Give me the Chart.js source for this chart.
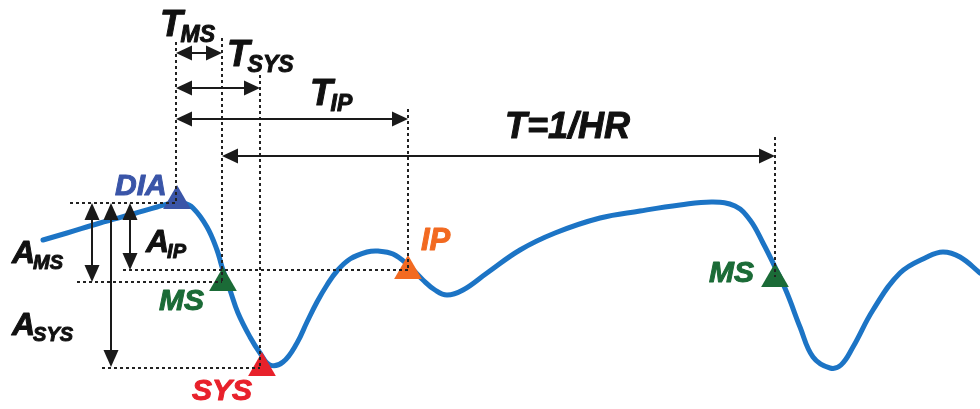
<!DOCTYPE html>
<html>
<head>
<meta charset="utf-8">
<script src="https://cdn.jsdelivr.net/npm/chart.js@4.4.1/dist/chart.umd.min.js"></script>
<style>
  html, body { margin: 0; padding: 0; background: #fff; }
  canvas { display: block; }
</style>
</head>
<body>
<canvas id="chart1" width="980" height="409"></canvas>
<script>
// pulse wave (time axis left->right, level axis top->down)
const waveTime = [43, 67, 100, 133, 157, 173, 183, 193, 207, 217, 222, 230, 238, 250, 260, 270, 283, 297, 307, 317,
    327, 337, 350, 367, 378, 393, 408, 423, 435, 447, 463, 487, 520, 555, 600, 640, 680, 713,
    735, 750, 763, 775, 787, 800, 813, 830, 841, 853, 873, 900, 927, 943, 960, 980]
const waveLevel = [240, 233, 223, 214, 207, 203, 203, 208, 227, 250, 267, 290, 313, 337, 353, 365, 362, 343, 322, 302,
    285, 271, 259, 252, 251, 254, 265, 280, 290, 295, 290, 273, 250, 233, 218, 211, 205, 202,
    206, 220, 243, 267, 293, 327, 357, 368, 365, 347, 310, 273, 257, 252, 257, 273]

// characteristic points
const markerNames = ["DIA", "MS", "SYS", "IP", "MS"]
const markerTime = [177, 223, 262, 408, 775]
const markerLevel = [201, 283, 368, 271, 279]
const markerColors = ["#3a55a8", "#1b6b37", "#e8212b", "#f26a21", "#1b6b37"]

// dotted guide lines
const guideVertical = [
    { t: 176, from: 42, to: 203 },
    { t: 222, from: 38, to: 282 },
    { t: 260, from: 75, to: 368 },
    { t: 408, from: 109, to: 270 },
    { t: 775, from: 137, to: 277 },
]
const guideHorizontal = [
    { level: 203, from: 70, to: 176 },
    { level: 282, from: 77, to: 222 },
    { level: 270, from: 123, to: 408 },
    { level: 368, from: 102, to: 260 },
]

// interval arrows (time) and amplitude arrows (level)
const timeArrows = [
    { name: "T_MS", level: 53, from: 176, to: 222 },
    { name: "T_SYS", level: 88, from: 176, to: 260 },
    { name: "T_IP", level: 119, from: 176, to: 408 },
    { name: "T", level: 156, from: 222, to: 775 },
]
const levelArrows = [
    { name: "A_MS", t: 92, from: 203, to: 282 },
    { name: "A_SYS", t: 111, from: 203, to: 367 },
    { name: "A_IP", t: 130, from: 203, to: 270 },
]

// text labels: main part, subscript, anchor (time, level = baseline)
const labels = [
    { main: "T", sub: "MS", t: 160, level: 36, size: 37, color: "#111" },
    { main: "T", sub: "SYS", t: 227, level: 66, size: 37, color: "#111" },
    { main: "T", sub: "IP", t: 310, level: 105, size: 37, color: "#111" },
    { main: "T=1/HR", sub: "", t: 505, level: 138, size: 36, color: "#111" },
    { main: "DIA", sub: "", t: 115, level: 195, size: 30, color: "#3a55a8" },
    { main: "A", sub: "MS", t: 12, level: 263, size: 32, color: "#111" },
    { main: "A", sub: "IP", t: 146, level: 252, size: 32, color: "#111" },
    { main: "A", sub: "SYS", t: 12, level: 335, size: 32, color: "#111" },
    { main: "MS", sub: "", t: 159, level: 310, size: 30, color: "#1b6b37" },
    { main: "SYS", sub: "", t: 192, level: 400, size: 30, color: "#e8212b" },
    { main: "IP", sub: "", t: 421, level: 250, size: 31, color: "#f26a21" },
    { main: "MS", sub: "", t: 709, level: 282, size: 30, color: "#1b6b37" },
]

const FONT = "'Liberation Sans', Arial, sans-serif"

function segment(points, opts) {
    return Object.assign({
        type: "line",
        data: points,
        borderColor: "#1a1a1a",
        borderWidth: 2,
        pointRadius: 0,
        fill: false,
        tension: 0,
    }, opts)
}

let datasets = []

// curve at the bottom
datasets.push({
    type: "line",
    data: waveTime.map((t, i) => ({ x: t, y: waveLevel[i] })),
    borderColor: "#1c74c5",
    borderWidth: 5,
    borderCapStyle: "round",
    borderJoinStyle: "round",
    pointRadius: 0,
    tension: 0.4,
    fill: false,
    order: 3,
})

datasets.push({
    type: "scatter",
    data: markerTime.map((t, i) => ({ x: t, y: markerLevel[i] })),
    pointStyle: "triangle",
    pointRadius: 16,
    pointBackgroundColor: markerColors,
    pointBorderColor: markerColors,
    pointBorderWidth: 0,
    order: 2,
})

for (const g of guideVertical) {
    datasets.push(segment([{ x: g.t, y: g.from }, { x: g.t, y: g.to }], { borderDash: [3, 3], borderColor: "#222", order: 1 }))
}
for (const g of guideHorizontal) {
    datasets.push(segment([{ x: g.from, y: g.level }, { x: g.to, y: g.level }], { borderDash: [3, 3], borderColor: "#222", order: 1 }))
}
for (const a of timeArrows) {
    datasets.push(segment([{ x: a.from + 8, y: a.level }, { x: a.to - 8, y: a.level }], { order: 0 }))
}
for (const a of levelArrows) {
    datasets.push(segment([{ x: a.t, y: a.from + 8 }, { x: a.t, y: a.to - 8 }], { order: 0 }))
}

function head(ctx, tipX, tipY, dx, dy, len, half) {
    ctx.beginPath()
    ctx.moveTo(tipX, tipY)
    ctx.lineTo(tipX - dx * len - dy * half, tipY - dy * len + dx * half)
    ctx.lineTo(tipX - dx * len + dy * half, tipY - dy * len - dx * half)
    ctx.closePath()
    ctx.fill()
}

const annotations = {
    id: "annotations",
    afterDatasetsDraw(chart) {
        const ctx = chart.ctx
        const xs = chart.scales.x, ys = chart.scales.y
        ctx.save()
        ctx.fillStyle = "#1a1a1a"
        for (const a of timeArrows) {
            const y = ys.getPixelForValue(a.level)
            head(ctx, xs.getPixelForValue(a.from), y, -1, 0, 16, 7.5)
            head(ctx, xs.getPixelForValue(a.to), y, 1, 0, 16, 7.5)
        }
        for (const a of levelArrows) {
            const x = xs.getPixelForValue(a.t)
            head(ctx, x, ys.getPixelForValue(a.from), 0, -1, 17, 7.5)
            head(ctx, x, ys.getPixelForValue(a.to), 0, 1, 17, 7.5)
        }
        ctx.textBaseline = "alphabetic"
        ctx.textAlign = "left"
        for (const l of labels) {
            const x = xs.getPixelForValue(l.t)
            const y = ys.getPixelForValue(l.level)
            ctx.fillStyle = l.color
            ctx.strokeStyle = l.color
            ctx.lineWidth = 1
            ctx.lineJoin = "round"
            ctx.font = "italic bold " + l.size + "px " + FONT
            ctx.fillText(l.main, x, y)
            ctx.strokeText(l.main, x, y)
            if (l.sub) {
                const w = ctx.measureText(l.main).width
                ctx.font = "italic bold " + Math.round(l.size * 0.62) + "px " + FONT
                ctx.fillText(l.sub, x + w - 2, y + 6)
                ctx.strokeText(l.sub, x + w - 2, y + 6)
            }
        }
        ctx.restore()
    }
}

const chart = {
    type: "line",
    data: { datasets: datasets },
    options: {
        responsive: false,
        devicePixelRatio: 1,
        animation: false,
        layout: { padding: 0, autoPadding: false },
        scales: {
            x: { type: "linear", min: 0, max: 980, display: false },
            y: { type: "linear", min: 0, max: 409, reverse: true, display: false },
        },
        plugins: {
            legend: { display: false },
            tooltip: { enabled: false },
        },
    },
    plugins: [annotations],
}

const ctx = document.getElementById("chart1").getContext("2d")
new Chart(ctx, chart)
</script>
</body>
</html>
